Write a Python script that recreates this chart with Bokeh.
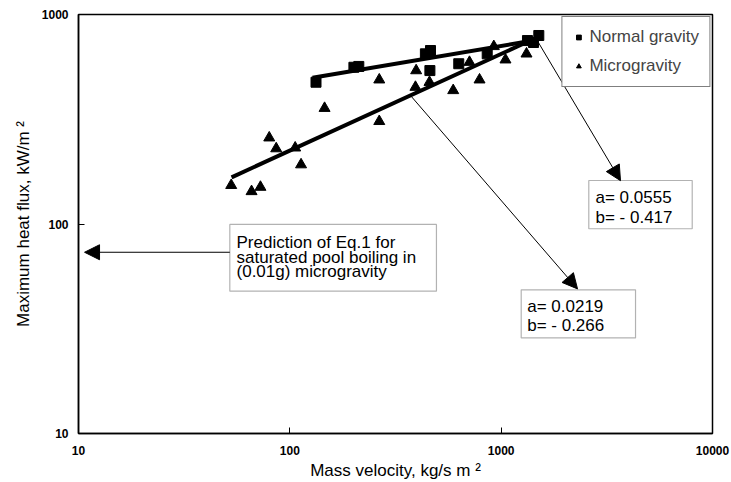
from bokeh.plotting import figure
from bokeh.models import (FixedTicker, NumeralTickFormatter, Arrow, NormalHead,
                          BoxAnnotation, Label, Legend, LegendItem, ColumnDataSource)
from bokeh.embed import file_html
from bokeh.resources import INLINE

# ---- data ----
normal_G = [133, 201, 212, 438, 463, 460, 630, 859, 1332, 1422, 1507]
normal_q = [475, 560, 565, 649, 673, 540, 582, 649, 751, 735, 794]

micro_G = [52.8, 65.9, 72.6, 79.9, 86.2, 106, 113, 146, 265, 265, 396, 393,
           458, 593, 708, 790, 923, 1048, 1318]
micro_q = [153, 143, 150, 258, 229, 231, 192, 357, 309, 488, 540, 450,
           475, 434, 592, 488, 704, 608, 649]

normal_fit_G = [128, 1350]
normal_fit_q = [499, 745]
micro_fit_G = [53, 1350]
micro_fit_q = [167, 745]

x_ticks = [10, 100, 1000, 10000]
y_ticks = [10, 100, 1000]

# annotation anchors (data coordinates)
arrow_normal = (1497, 738, 3670, 161)
arrow_micro = (372, 411, 2298, 49)
arrow_pred = (52.0, 73.3, 10.68, 73.3)

box_normal = (2598, 8017, 161.3, 94.9)   # left, right, top, bottom
box_micro = (1244, 4323, 48.5, 28.6)
box_pred = (52.0, 494, 99.5, 47.8)

text_normal = ["a= 0.0555", "b= - 0.417"]
text_normal_pos = (2795, [134.3, 107.4])
text_micro = ["a= 0.0219", "b= - 0.266"]
text_micro_pos = (1328, [40.4, 32.8])
text_pred = ["Prediction of Eq.1 for", "saturated pool boiling in", "(0.01g) microgravity"]
text_pred_pos = (55.95, [81.9, 69.4, 59.5])

FONT = "Liberation Sans"

p = figure(width=731, height=482, x_axis_type="log", y_axis_type="log",
           x_range=(10, 10000), y_range=(10, 1000),
           output_backend="svg", toolbar_location=None,
           min_border_left=78, min_border_right=19, min_border_top=14, min_border_bottom=49)
p.grid.visible = False
p.background_fill_color = "white"
p.border_fill_color = "white"
p.outline_line_color = "black"
p.outline_line_width = 1.5

p.xaxis.ticker = FixedTicker(ticks=x_ticks)
p.yaxis.ticker = FixedTicker(ticks=y_ticks)
p.xaxis.formatter = NumeralTickFormatter(format="0")
p.yaxis.formatter = NumeralTickFormatter(format="0")
for ax in (p.xaxis[0], p.yaxis[0]):
    ax.major_tick_in = 6
    ax.major_tick_out = 0
    ax.minor_tick_line_color = None
    ax.axis_line_color = "black"
    ax.axis_line_width = 1.5
    ax.major_tick_line_color = "black"
    ax.major_label_text_font = FONT
    ax.major_label_text_font_style = "bold"
    ax.major_label_text_font_size = "12px"
    ax.major_label_text_color = "black"
    ax.axis_label_text_font = FONT
    ax.axis_label_text_font_style = "normal"
    ax.axis_label_text_font_size = "17px"
    ax.axis_label_text_color = "black"

p.xaxis.axis_label = "Mass velocity, kg/s m \u00b2"
p.yaxis.axis_label = "Maximum heat flux, kW/m \u00b2"
p.xaxis.major_label_standoff = 12
p.yaxis.major_label_standoff = 10
p.xaxis.axis_label_standoff = 3
p.yaxis.axis_label_standoff = 6

# fit lines
p.line(normal_fit_G, normal_fit_q, line_color="black", line_width=4)
p.line(micro_fit_G, micro_fit_q, line_color="black", line_width=4)

# points
r_norm = p.scatter(normal_G, normal_q, marker="square", size=10,
                   fill_color="black", line_color="black")
r_micro = p.scatter(micro_G, micro_q, marker="triangle", size=11,
                    fill_color="black", line_color="black")

# boxes
for (l, r, t, b) in (box_normal, box_micro, box_pred):
    p.add_layout(BoxAnnotation(left=l, right=r, top=t, bottom=b,
                               fill_color="white", fill_alpha=1.0,
                               line_color="black", line_width=1.2))

# arrows
for (xs, ys, xe, ye) in (arrow_normal, arrow_micro, arrow_pred):
    p.add_layout(Arrow(x_start=xs, y_start=ys, x_end=xe, y_end=ye,
                       line_color="black", line_width=1,
                       end=NormalHead(size=15, fill_color="black", line_color="black")))

# texts
for lines, (tx, tys) in ((text_normal, text_normal_pos), (text_micro, text_micro_pos),
                         (text_pred, text_pred_pos)):
    for s, ty in zip(lines, tys):
        p.add_layout(Label(x=tx, y=ty, text=s, text_font=FONT, text_font_size="17px",
                           text_color="black", text_align="left", text_baseline="middle"))

legend = Legend(items=[LegendItem(label="Normal gravity", renderers=[r_norm]),
                       LegendItem(label="Microgravity", renderers=[r_micro])],
                location="top_right")
legend.margin = 2
legend.padding = 10
legend.spacing = 9
legend.glyph_width = 12
legend.glyph_height = 20
legend.label_height = 20
legend.label_standoff = 5
legend.label_text_font = FONT
legend.label_text_font_size = "17px"
legend.border_line_color = "black"
legend.border_line_width = 1.5
legend.background_fill_color = "white"
legend.background_fill_alpha = 1.0
p.add_layout(legend)

open("out.html", "w").write(file_html(p, INLINE))
